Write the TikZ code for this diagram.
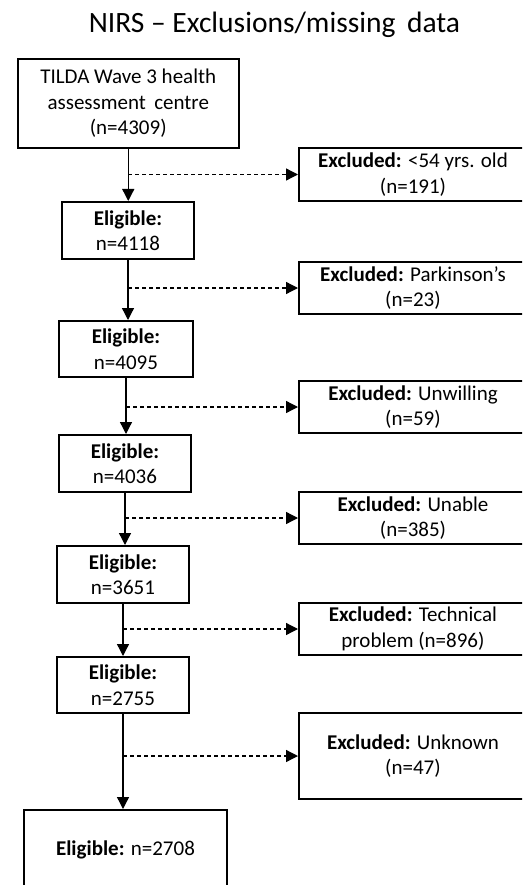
\documentclass[tikz,border=0pt]{standalone}
\usepackage{fontspec}
\setmainfont{Carlito}
\usetikzlibrary{arrows.meta}

\tikzset{
  box/.style={draw, line width=2pt, align=center, inner sep=0pt,
    font=\fontsize{21}{25.5}\selectfont},
  exclbox/.style={box, minimum width=228pt},
  flow/.style={-{Triangle[length=12pt,width=12pt]}, line width=1.3pt},
  side/.style={flow, dash pattern=on 4pt off 3pt},
}

\begin{document}
\begin{tikzpicture}[x=1pt, y=-1pt]
  \useasboundingbox (0,0) rectangle (522,885);
  \clip (0,0) rectangle (522,885);

  \node (title) at (274.5,25) {\fontsize{29.5}{34}\selectfont NIRS -- Exclusions/missing\, data};

  % main column
  \node[box, minimum width=221.5pt, minimum height=89pt] (top) at (128.25,103.5)
    {TILDA Wave 3 health\\assessment\, centre\\(n=4309)};
  \node[box, minimum width=132pt, minimum height=57pt] (e1) at (128,230.5)
    {\textbf{Eligible:}\\n=4118};
  \node[box, minimum width=134pt, minimum height=56pt] (e2) at (126,349)
    {\textbf{Eligible:}\\n=4095};
  \node[box, minimum width=132pt, minimum height=57pt] (e3) at (125,463.5)
    {\textbf{Eligible:}\\n=4036};
  \node[box, minimum width=132pt, minimum height=57pt] (e4) at (123,574.5)
    {\textbf{Eligible:}\\n=3651};
  \node[box, minimum width=132pt, minimum height=56pt] (e5) at (123,685)
    {\textbf{Eligible:}\\n=2755};
  \node[box, minimum width=203pt, minimum height=80pt] (final) at (125.5,850)
    {\textbf{Eligible:} n=2708};

  % exclusions
  \node[exclbox, minimum height=53pt] (x1) at (413,174.5)
    {\textbf{Excluded:} <54 yrs. old\\(n=191)};
  \node[exclbox, minimum height=52pt] (x2) at (413,288)
    {\textbf{Excluded:} Parkinson’s\\(n=23)};
  \node[exclbox, minimum height=52pt] (x3) at (413,407)
    {\textbf{Excluded:} Unwilling\\(n=59)};
  \node[exclbox, minimum height=52pt] (x4) at (413,518)
    {\textbf{Excluded:} Unable\\(n=385)};
  \node[exclbox, minimum height=52pt] (x5) at (413,629)
    {\textbf{Excluded:} Technical\\problem (n=896)};
  \node[exclbox, minimum height=86pt] (x6) at (413,756)
    {\textbf{Excluded:} Unknown\\(n=47)};

  \draw[flow] (top.south) -- (top.south |- e1.north);
  \draw[flow] (e1.south) -- (e1.south |- e2.north);
  \draw[flow] (e2.south) -- (e2.south |- e3.north);
  \draw[flow] (e3.south) -- (e3.south |- e4.north);
  \draw[flow] (e4.south) -- (e4.south |- e5.north);
  \draw[flow] (e5.south) -- (e5.south |- final.north);

  \draw[side] (top.south |- x1.west) -- (x1.west);
  \draw[side] (e1.south |- x2.west) -- (x2.west);
  \draw[side] (e2.south |- x3.west) -- (x3.west);
  \draw[side] (e3.south |- x4.west) -- (x4.west);
  \draw[side] (e4.south |- x5.west) -- (x5.west);
  \draw[side] (e5.south |- x6.west) -- (x6.west);
\end{tikzpicture}
\end{document}
